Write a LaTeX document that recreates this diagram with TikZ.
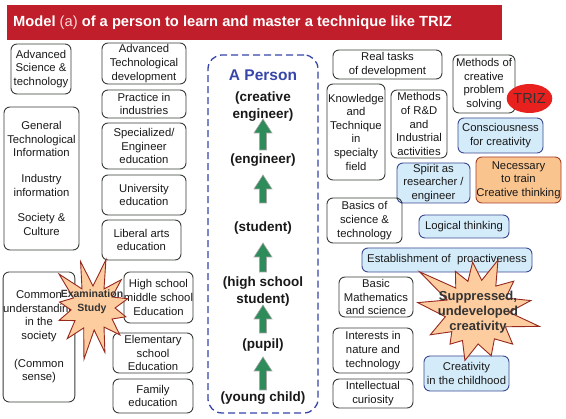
\documentclass[tikz,border=0pt]{standalone}
\usepackage{fontspec}
\setmainfont{Liberation Sans}
\usetikzlibrary{shapes.geometric}
\definecolor{titlered}{RGB}{192,30,42}
\definecolor{boxc}{RGB}{55,62,55}
\definecolor{bluefill}{RGB}{212,236,250}
\definecolor{blueline}{RGB}{60,72,145}
\definecolor{orfill}{RGB}{250,196,142}
\definecolor{orline}{RGB}{170,62,40}
\definecolor{starfill}{RGB}{253,205,160}
\definecolor{starline}{RGB}{150,40,30}
\definecolor{personc}{RGB}{55,70,170}
\definecolor{arrg}{RGB}{45,140,90}
\definecolor{trizred}{RGB}{232,32,30}
\begin{document}
\begin{tikzpicture}[x=1pt,y=-1pt,
  box/.style={draw=boxc, line width=0.9pt, rounded corners=6pt, align=center, inner sep=0pt,
     font=\fontsize{11.3}{13.6}\selectfont, text=black!90},
  bluebox/.style={box, draw=blueline, fill=bluefill},
  orbox/.style={box, draw=orline, fill=orfill},
  stage/.style={align=center, inner sep=0pt, font=\fontsize{13.5}{17}\bfseries\selectfont, text=black!90},
  starsty/.style={draw=starline, fill=starfill, line width=0.9pt, line join=miter},
  startext/.style={align=center, inner sep=0pt, text=black!80},
  pics/uparr/.style={code={\filldraw[fill=arrg, draw=black!35, line width=0.6pt]
     (-3.5,0) -- (-3.5,{-(#1-14)}) -- (-9,{-(#1-14)}) -- (0,-#1) -- (9,{-(#1-14)}) -- (3.5,{-(#1-14)}) -- (3.5,0) -- cycle;}}
]
\useasboundingbox (0,0) rectangle (566,419);
\fill[white] (0,0) rectangle (566,419);

% title
\fill[titlered] (7,5) rectangle (502,40);
\node[anchor=west, inner sep=0pt, text=white, font=\fontsize{14.7}{17}\bfseries\selectfont] (title) at (13,22.5)
  {Model {\mdseries\color{white!85!red}(a)} of a person to learn and master a technique like TRIZ};

% left column
\node[box, minimum width=60pt, minimum height=50pt] (adv) at (41,69) {Advanced\\Science \&\\technology};
\node[box, minimum width=75pt, minimum height=143pt] (gen) at (41.5,178.5)
  {General\\Technological\\Information\\[12pt]Industry\\information\\[12pt]Society \&\\Culture};
\node[box, minimum width=56pt, minimum height=130pt] (common) at (39,337)
  {Common\\understanding\\in the\\society\\[14pt](Common\\sense)};

% second column
\node[box, minimum width=84pt, minimum height=41pt] (atd) at (144,63.5) {Advanced\\Technological\\development};
\node[box, minimum width=84pt, minimum height=28pt] (pii) at (144,104) {Practice in\\industries};
\node[box, minimum width=84pt, minimum height=46pt] (spec) at (144,146) {Specialized/\\Engineer\\education};
\node[box, minimum width=84pt, minimum height=40pt] (univ) at (144,195) {University\\education};
\node[box, minimum width=79pt, minimum height=40pt] (lib) at (141.5,240) {Liberal arts\\education};
\node[box, minimum width=69pt, minimum height=51pt] (hs) at (158.5,297.5) {High school\\middle school\\Education};
\node[box, minimum width=80pt, minimum height=40pt] (elem) at (153,353) {Elementary\\school\\Education};
\node[box, minimum width=80pt, minimum height=34pt] (fam) at (153,396) {Family\\education};

% person column
\node[draw=personc, dash pattern=on 7pt off 4pt, line width=1.3pt, rounded corners=14pt,
      minimum width=110pt, minimum height=358pt, inner sep=0pt] (person) at (263,234) {};
\node[inner sep=0pt, text=personc, font=\fontsize{15.5}{18}\bfseries\selectfont] (aperson) at (263,75) {A Person};
\node[stage] (cre) at (263,107) {(creative\\engineer)};
\node[stage] (eng) at (263,160) {(engineer)};
\node[stage] (stu) at (263,228) {(student)};
\node[stage] (hss) at (263,291.5) {(high school\\student)};
\node[stage] (pup) at (263,345) {(pupil)};
\node[stage] (yc) at (263,398) {(young child)};
\pic at (263,150) {uparr=31};
\pic at (263,203) {uparr=28};
\pic at (263,272) {uparr=29};
\pic at (263,333) {uparr=28};
\pic at (263,390) {uparr=33};

% right side
\node[box, minimum width=109pt, minimum height=29pt] (real) at (387.5,64.5) {Real tasks\\of development};
\node[box, minimum width=58pt, minimum height=96pt] (know) at (356,132) {Knowledge\\and\\Technique\\in\\specialty\\field};
\node[box, minimum width=56pt, minimum height=68pt] (rd) at (419,124) {Methods\\of R\&D\\and\\Industrial\\activities};
\node[box, minimum width=62pt, minimum height=58pt] (mcps) at (484,84) {Methods of\\creative\\problem\\solving};
\node[ellipse, fill=trizred, minimum width=41pt, minimum height=29pt, inner sep=0pt,
      font=\fontsize{14.5}{16}\selectfont, text=black!80] (triz) at (529.5,98.5) {TRIZ};
\node[bluebox, minimum width=85pt, minimum height=35pt] (cons) at (500.5,135.5) {Consciousness\\for creativity};
\node[bluebox, minimum width=73pt, minimum height=40pt] (spirit) at (433.5,183) {Spirit as\\researcher /\\engineer};
\node[orbox, minimum width=85pt, minimum height=46pt] (nec) at (518.5,180) {Necessary\\to train\\Creative thinking};
\node[box, minimum width=75pt, minimum height=45pt] (basics) at (364.5,220.5) {Basics of\\science \&\\technology};
\node[bluebox, minimum width=90pt, minimum height=23pt] (logic) at (464,226.5) {Logical thinking};
\node[bluebox, minimum width=170pt, minimum height=24pt] (estab) at (447,260) {Establishment of\ \ proactiveness};
\node[box, minimum width=74pt, minimum height=40pt] (bms) at (376,297) {Basic\\Mathematics\\and science};
\node[box, minimum width=80pt, minimum height=45pt] (int) at (373,350.5) {Interests in\\nature and\\technology};
\node[box, minimum width=80pt, minimum height=29pt] (ic) at (373,393.5) {Intellectual\\curiosity};
\node[bluebox, minimum width=85pt, minimum height=35pt] (child) at (466.5,373.5) {Creativity\\in the childhood};

% starbursts
\draw[starsty, shift={(93,308)}] (-105:48) -- (-90:22) -- (-75:50) -- (-60:22) -- (-45:40) -- (-30:22)
  -- (-15:36) -- (0:22) -- (15:34) -- (30:22) -- (45:38) -- (60:22) -- (75:46) -- (87:22)
  -- (100:52) -- (115:22) -- (130:40) -- (145:22) -- (160:36) -- (175:22) -- (190:34) -- (207:22)
  -- (225:48) -- (240:22) -- cycle;
\node[startext, font=\fontsize{10.5}{14}\bfseries\selectfont] (exam) at (92,302) {Examination\\Study};

\draw[starsty, shift={(477,312)}] (-95:50) -- (-81.5:32) -- (-68:56) -- (-54:32) -- (-40:48) -- (-26:32)
  -- (-12:55) -- (0.5:32) -- (13:64) -- (27.5:32) -- (42:48) -- (57:32) -- (72:46) -- (88:32)
  -- (104:50) -- (117:32) -- (130:42) -- (142:32) -- (154:52) -- (171.5:32) -- (189:60) -- (202:32)
  -- (215:70) -- (228.5:32) -- (242:46) -- (253.5:32) -- cycle;
\node[startext, font=\fontsize{13}{15}\bfseries\selectfont] (supp) at (478,312) {Suppressed,\\undeveloped\\creativity};
\end{tikzpicture}
\end{document}
